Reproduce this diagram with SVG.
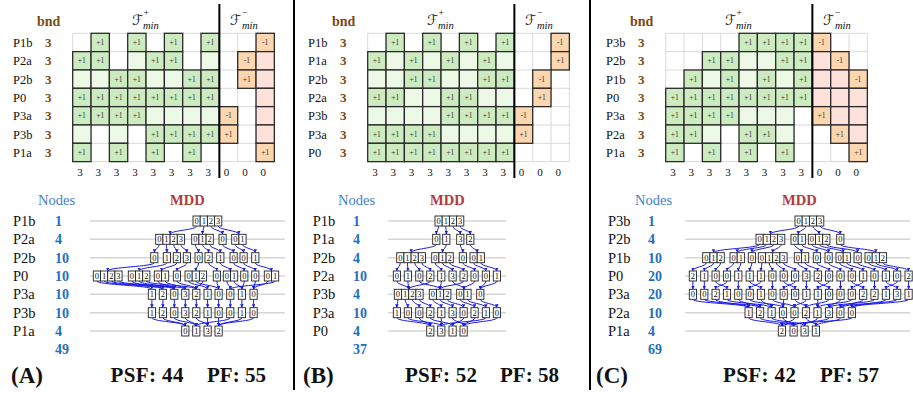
<svg xmlns="http://www.w3.org/2000/svg" width="913" height="396" viewBox="0 0 913 396">
<style>
text{font-family:"Liberation Serif","DejaVu Serif",serif;fill:#111}
.lab{font-size:12.5px}
.bn{font-size:13px;font-weight:bold;fill:#7b4a12}
.hd{font-size:14px;font-weight:bold;fill:#7b4a12}
.fs{font-size:14px;font-family:"DejaVu Sans","Noto Sans",sans-serif;font-weight:normal;text-anchor:end;fill:#222}
.sup{font-size:9.5px}
.sub{font-size:10.5px;font-style:italic}
.gl{stroke:#d9d9d9;stroke-width:1;fill:none}
.g{fill:#cdebc0;stroke:#2b2b2b;stroke-width:1.3}
.l{fill:#ecf9e7;stroke:#2b2b2b;stroke-width:1.3}
.o{fill:#fcd6ae;stroke:#2b2b2b;stroke-width:1.3}
.p{fill:#fde1da;stroke:#2b2b2b;stroke-width:1.3}
.t{font-size:7.5px;text-anchor:middle;fill:#333}
.cnt{font-size:11px;text-anchor:middle}
.sep{stroke:#000;stroke-width:2}
.ml{font-size:14.5px}
.mn{font-size:14px;font-weight:bold;fill:#1f6fbf}
.nodes{font-size:14.5px;fill:#3f7fcc}
.mdd{font-size:14.5px;font-weight:bold;fill:#b23a3a}
.rl{stroke:#d6d6d6;stroke-width:1.5}
.mc{fill:#fff;stroke:#222;stroke-width:0.9}
.md{font-size:8.5px;text-anchor:middle}
.e{fill:none;stroke:#1a1ae6;stroke-width:1;marker-end:url(#ar)}
.big{font-size:23px;font-weight:bold}
.sc{font-size:21px;font-weight:bold}
</style>
<defs>
<marker id="ar" viewBox="0 0 6 6" refX="6" refY="3" markerWidth="3.5" markerHeight="3.5" orient="auto" markerUnits="userSpaceOnUse"><path d="M0,0L6,3L0,6z" fill="#1a1ae6"/></marker>
<path id="gridbg" class="gl" d="M0 0H201.67M0 18.33H201.67M0 36.67H201.67M0 55H201.67M0 73.33H201.67M0 91.67H201.67M0 110H201.67M0 128.33H201.67M0 0V128.33M18.33 0V128.33M36.67 0V128.33M55 0V128.33M73.33 0V128.33M91.67 0V128.33M110 0V128.33M128.33 0V128.33M146.67 0V128.33M165 0V128.33M183.33 0V128.33M201.67 0V128.33"/>
<g id="g1"><rect class="g" width="18.33" height="18.33"/><text class="t" x="9.17" y="11.8">+1</text></g>
<rect id="lc" class="l" width="18.33" height="18.33"/>
<g id="om"><rect class="o" width="18.33" height="18.33"/><text class="t" x="9.17" y="11.8">-1</text></g>
<g id="op"><rect class="o" width="18.33" height="18.33"/><text class="t" x="9.17" y="11.8">+1</text></g>
<rect id="pk" class="p" width="18.33" height="18.33"/>
<g id="d0"><rect class="mc" width="7.2" height="10"/><text class="md" x="3.6" y="8.2">0</text></g>
<g id="d1"><rect class="mc" width="7.2" height="10"/><text class="md" x="3.6" y="8.2">1</text></g>
<g id="d2"><rect class="mc" width="7.2" height="10"/><text class="md" x="3.6" y="8.2">2</text></g>
<g id="d3"><rect class="mc" width="7.2" height="10"/><text class="md" x="3.6" y="8.2">3</text></g>
</defs>
<rect width="913" height="396" fill="#fff"/>

<!-- panel dividers -->
<g id="dividers"><line class="sep" x1="294" y1="0" x2="294" y2="390"/><line class="sep" x1="590" y1="0" x2="590" y2="390"/></g>

<!-- ===== Panel A table ===== -->
<g id="tableA">
<text class="hd" x="37" y="26">bnd</text>
<text class="fs" x="143" y="25">ℱ</text><text class="sup" x="143.5" y="15.5">+</text><text class="sub" x="143" y="28.5">min</text>
<text class="fs" x="241" y="25">ℱ</text><text class="sup" x="242" y="15.5">−</text><text class="sub" x="242" y="28.5">min</text>
<text class="lab" x="13" y="47">P1b</text><text class="lab" x="13" y="65.3">P2a</text><text class="lab" x="13" y="83.7">P2b</text><text class="lab" x="13" y="102">P0</text><text class="lab" x="13" y="120.3">P3a</text><text class="lab" x="13" y="138.7">P3b</text><text class="lab" x="13" y="157">P1a</text>
<text class="bn" x="45" y="47">3</text><text class="bn" x="45" y="65.3">3</text><text class="bn" x="45" y="83.7">3</text><text class="bn" x="45" y="102">3</text><text class="bn" x="45" y="120.3">3</text><text class="bn" x="45" y="138.7">3</text><text class="bn" x="45" y="157">3</text>
<g transform="translate(72.7,33.3)">
<use href="#gridbg"/>
<use href="#g1" x="18.33" y="0"/><use href="#g1" x="55" y="0"/><use href="#g1" x="91.67" y="0"/><use href="#g1" x="128.33" y="0"/><use href="#om" x="183.33" y="0"/>
<use href="#g1" x="0" y="18.33"/><use href="#g1" x="18.33" y="18.33"/><use href="#lc" x="55" y="18.33"/><use href="#g1" x="73.33" y="18.33"/><use href="#g1" x="91.67" y="18.33"/><use href="#lc" x="128.33" y="18.33"/><use href="#om" x="165" y="18.33"/><use href="#pk" x="183.33" y="18.33"/>
<use href="#lc" x="0" y="36.67"/><use href="#lc" x="18.33" y="36.67"/><use href="#g1" x="36.67" y="36.67"/><use href="#g1" x="55" y="36.67"/><use href="#lc" x="73.33" y="36.67"/><use href="#lc" x="91.67" y="36.67"/><use href="#g1" x="110" y="36.67"/><use href="#g1" x="128.33" y="36.67"/><use href="#op" x="165" y="36.67"/><use href="#pk" x="183.33" y="36.67"/>
<use href="#g1" x="0" y="55"/><use href="#g1" x="18.33" y="55"/><use href="#g1" x="36.67" y="55"/><use href="#g1" x="55" y="55"/><use href="#g1" x="73.33" y="55"/><use href="#g1" x="91.67" y="55"/><use href="#g1" x="110" y="55"/><use href="#g1" x="128.33" y="55"/><use href="#pk" x="183.33" y="55"/>
<use href="#g1" x="0" y="73.33"/><use href="#g1" x="18.33" y="73.33"/><use href="#g1" x="36.67" y="73.33"/><use href="#g1" x="55" y="73.33"/><use href="#lc" x="73.33" y="73.33"/><use href="#lc" x="91.67" y="73.33"/><use href="#lc" x="110" y="73.33"/><use href="#lc" x="128.33" y="73.33"/><use href="#om" x="146.67" y="73.33"/><use href="#pk" x="183.33" y="73.33"/>
<use href="#lc" x="0" y="91.67"/><use href="#lc" x="36.67" y="91.67"/><use href="#g1" x="73.33" y="91.67"/><use href="#g1" x="91.67" y="91.67"/><use href="#g1" x="110" y="91.67"/><use href="#g1" x="128.33" y="91.67"/><use href="#op" x="146.67" y="91.67"/><use href="#pk" x="183.33" y="91.67"/>
<use href="#g1" x="0" y="110"/><use href="#g1" x="36.67" y="110"/><use href="#g1" x="73.33" y="110"/><use href="#g1" x="110" y="110"/><use href="#op" x="183.33" y="110"/>
<line class="sep" x1="146.67" y1="-29.3" x2="146.67" y2="144.7"/>
<text class="cnt" x="7.2" y="142.7">3</text><text class="cnt" x="25.5" y="142.7">3</text><text class="cnt" x="43.8" y="142.7">3</text><text class="cnt" x="62.2" y="142.7">3</text><text class="cnt" x="80.5" y="142.7">3</text><text class="cnt" x="98.8" y="142.7">3</text><text class="cnt" x="117.2" y="142.7">3</text><text class="cnt" x="135.5" y="142.7">3</text><text class="cnt" x="153.8" y="142.7">0</text><text class="cnt" x="172.2" y="142.7">0</text><text class="cnt" x="190.5" y="142.7">0</text>
</g>
</g>

<!-- ===== Panel B table ===== -->
<g id="tableB" transform="translate(295,0)">
<text class="hd" x="37" y="26">bnd</text>
<text class="fs" x="143" y="25">ℱ</text><text class="sup" x="143.5" y="15.5">+</text><text class="sub" x="143" y="28.5">min</text>
<text class="fs" x="241" y="25">ℱ</text><text class="sup" x="242" y="15.5">−</text><text class="sub" x="242" y="28.5">min</text>
<text class="lab" x="13" y="47">P1b</text><text class="lab" x="13" y="65.3">P1a</text><text class="lab" x="13" y="83.7">P2b</text><text class="lab" x="13" y="102">P2a</text><text class="lab" x="13" y="120.3">P3b</text><text class="lab" x="13" y="138.7">P3a</text><text class="lab" x="13" y="157">P0</text>
<text class="bn" x="45" y="47">3</text><text class="bn" x="45" y="65.3">3</text><text class="bn" x="45" y="83.7">3</text><text class="bn" x="45" y="102">3</text><text class="bn" x="45" y="120.3">3</text><text class="bn" x="45" y="138.7">3</text><text class="bn" x="45" y="157">3</text>
<g transform="translate(72.7,33.3)">
<use href="#gridbg"/>
<use href="#g1" x="18.33" y="0"/><use href="#g1" x="55" y="0"/><use href="#g1" x="91.67" y="0"/><use href="#g1" x="128.33" y="0"/><use href="#om" x="183.33" y="0"/>
<use href="#g1" x="0" y="18.33"/><use href="#lc" x="18.33" y="18.33"/><use href="#g1" x="36.67" y="18.33"/><use href="#lc" x="55" y="18.33"/><use href="#g1" x="73.33" y="18.33"/><use href="#lc" x="91.67" y="18.33"/><use href="#g1" x="110" y="18.33"/><use href="#lc" x="128.33" y="18.33"/><use href="#op" x="183.33" y="18.33"/>
<use href="#lc" x="0" y="36.67"/><use href="#lc" x="18.33" y="36.67"/><use href="#g1" x="36.67" y="36.67"/><use href="#g1" x="55" y="36.67"/><use href="#lc" x="73.33" y="36.67"/><use href="#lc" x="91.67" y="36.67"/><use href="#g1" x="110" y="36.67"/><use href="#g1" x="128.33" y="36.67"/><use href="#om" x="165" y="36.67"/>
<use href="#g1" x="0" y="55"/><use href="#g1" x="18.33" y="55"/><use href="#lc" x="36.67" y="55"/><use href="#lc" x="55" y="55"/><use href="#g1" x="73.33" y="55"/><use href="#g1" x="91.67" y="55"/><use href="#lc" x="110" y="55"/><use href="#lc" x="128.33" y="55"/><use href="#op" x="165" y="55"/>
<use href="#lc" x="0" y="73.33"/><use href="#lc" x="18.33" y="73.33"/><use href="#lc" x="36.67" y="73.33"/><use href="#lc" x="55" y="73.33"/><use href="#g1" x="73.33" y="73.33"/><use href="#g1" x="91.67" y="73.33"/><use href="#g1" x="110" y="73.33"/><use href="#g1" x="128.33" y="73.33"/><use href="#om" x="146.67" y="73.33"/>
<use href="#g1" x="0" y="91.67"/><use href="#g1" x="18.33" y="91.67"/><use href="#g1" x="36.67" y="91.67"/><use href="#g1" x="55" y="91.67"/><use href="#lc" x="73.33" y="91.67"/><use href="#lc" x="91.67" y="91.67"/><use href="#lc" x="110" y="91.67"/><use href="#lc" x="128.33" y="91.67"/><use href="#op" x="146.67" y="91.67"/>
<use href="#g1" x="0" y="110"/><use href="#g1" x="18.33" y="110"/><use href="#g1" x="36.67" y="110"/><use href="#g1" x="55" y="110"/><use href="#g1" x="73.33" y="110"/><use href="#g1" x="91.67" y="110"/><use href="#g1" x="110" y="110"/><use href="#g1" x="128.33" y="110"/>
<line class="sep" x1="146.67" y1="-29.3" x2="146.67" y2="144.7"/>
<text class="cnt" x="7.2" y="142.7">3</text><text class="cnt" x="25.5" y="142.7">3</text><text class="cnt" x="43.8" y="142.7">3</text><text class="cnt" x="62.2" y="142.7">3</text><text class="cnt" x="80.5" y="142.7">3</text><text class="cnt" x="98.8" y="142.7">3</text><text class="cnt" x="117.2" y="142.7">3</text><text class="cnt" x="135.5" y="142.7">3</text><text class="cnt" x="153.8" y="142.7">0</text><text class="cnt" x="172.2" y="142.7">0</text><text class="cnt" x="190.5" y="142.7">0</text>
</g>
</g>

<!-- ===== Panel C table ===== -->
<g id="tableC" transform="translate(593,0)">
<text class="hd" x="37" y="26">bnd</text>
<text class="fs" x="143" y="25">ℱ</text><text class="sup" x="143.5" y="15.5">+</text><text class="sub" x="143" y="28.5">min</text>
<text class="fs" x="241" y="25">ℱ</text><text class="sup" x="242" y="15.5">−</text><text class="sub" x="242" y="28.5">min</text>
<text class="lab" x="13" y="47">P3b</text><text class="lab" x="13" y="65.3">P2b</text><text class="lab" x="13" y="83.7">P1b</text><text class="lab" x="13" y="102">P0</text><text class="lab" x="13" y="120.3">P3a</text><text class="lab" x="13" y="138.7">P2a</text><text class="lab" x="13" y="157">P1a</text>
<text class="bn" x="45" y="47">3</text><text class="bn" x="45" y="65.3">3</text><text class="bn" x="45" y="83.7">3</text><text class="bn" x="45" y="102">3</text><text class="bn" x="45" y="120.3">3</text><text class="bn" x="45" y="138.7">3</text><text class="bn" x="45" y="157">3</text>
<g transform="translate(72.7,33.3)">
<use href="#gridbg"/>
<use href="#g1" x="73.33" y="0"/><use href="#g1" x="91.67" y="0"/><use href="#g1" x="110" y="0"/><use href="#g1" x="128.33" y="0"/><use href="#om" x="146.67" y="0"/>
<use href="#g1" x="36.67" y="18.33"/><use href="#g1" x="55" y="18.33"/><use href="#lc" x="73.33" y="18.33"/><use href="#lc" x="91.67" y="18.33"/><use href="#g1" x="110" y="18.33"/><use href="#g1" x="128.33" y="18.33"/><use href="#pk" x="146.67" y="18.33"/><use href="#om" x="165" y="18.33"/>
<use href="#g1" x="18.33" y="36.67"/><use href="#lc" x="36.67" y="36.67"/><use href="#g1" x="55" y="36.67"/><use href="#lc" x="73.33" y="36.67"/><use href="#g1" x="91.67" y="36.67"/><use href="#lc" x="110" y="36.67"/><use href="#g1" x="128.33" y="36.67"/><use href="#pk" x="146.67" y="36.67"/><use href="#pk" x="165" y="36.67"/><use href="#om" x="183.33" y="36.67"/>
<use href="#g1" x="0" y="55"/><use href="#g1" x="18.33" y="55"/><use href="#g1" x="36.67" y="55"/><use href="#g1" x="55" y="55"/><use href="#g1" x="73.33" y="55"/><use href="#g1" x="91.67" y="55"/><use href="#g1" x="110" y="55"/><use href="#g1" x="128.33" y="55"/><use href="#pk" x="146.67" y="55"/><use href="#pk" x="165" y="55"/><use href="#pk" x="183.33" y="55"/>
<use href="#g1" x="0" y="73.33"/><use href="#g1" x="18.33" y="73.33"/><use href="#g1" x="36.67" y="73.33"/><use href="#g1" x="55" y="73.33"/><use href="#lc" x="73.33" y="73.33"/><use href="#lc" x="91.67" y="73.33"/><use href="#lc" x="110" y="73.33"/><use href="#op" x="146.67" y="73.33"/><use href="#pk" x="165" y="73.33"/><use href="#pk" x="183.33" y="73.33"/>
<use href="#g1" x="0" y="91.67"/><use href="#g1" x="18.33" y="91.67"/><use href="#lc" x="36.67" y="91.67"/><use href="#g1" x="73.33" y="91.67"/><use href="#g1" x="91.67" y="91.67"/><use href="#lc" x="110" y="91.67"/><use href="#op" x="165" y="91.67"/><use href="#pk" x="183.33" y="91.67"/>
<use href="#g1" x="0" y="110"/><use href="#g1" x="36.67" y="110"/><use href="#g1" x="73.33" y="110"/><use href="#g1" x="110" y="110"/><use href="#op" x="183.33" y="110"/>
<line class="sep" x1="146.67" y1="-29.3" x2="146.67" y2="144.7"/>
<text class="cnt" x="7.2" y="142.7">3</text><text class="cnt" x="25.5" y="142.7">3</text><text class="cnt" x="43.8" y="142.7">3</text><text class="cnt" x="62.2" y="142.7">3</text><text class="cnt" x="80.5" y="142.7">3</text><text class="cnt" x="98.8" y="142.7">3</text><text class="cnt" x="117.2" y="142.7">3</text><text class="cnt" x="135.5" y="142.7">3</text><text class="cnt" x="153.8" y="142.7">0</text><text class="cnt" x="172.2" y="142.7">0</text><text class="cnt" x="190.5" y="142.7">0</text>
</g>
</g>

<!-- ===== MDD labels ===== -->
<g id="labelsA">
<text class="nodes" x="38" y="205">Nodes</text><text class="mdd" x="170" y="205">MDD</text>
<text class="ml" x="13" y="226">P1b</text><text class="ml" x="13" y="244.3">P2a</text><text class="ml" x="13" y="262.7">P2b</text><text class="ml" x="13" y="281">P0</text><text class="ml" x="13" y="299.3">P3a</text><text class="ml" x="13" y="317.7">P3b</text><text class="ml" x="13" y="336">P1a</text>
<text class="mn" x="55" y="226">1</text><text class="mn" x="55" y="244.3">4</text><text class="mn" x="55" y="262.7">10</text><text class="mn" x="55" y="281">10</text><text class="mn" x="55" y="299.3">10</text><text class="mn" x="55" y="317.7">10</text><text class="mn" x="55" y="336">4</text><text class="mn" x="55" y="354">49</text>
<text class="big" x="11" y="383">(A)</text><text class="sc" x="110.5" y="382" textLength="73" lengthAdjust="spacing">PSF: 44</text><text class="sc" x="207" y="382">PF: 55</text>
</g>
<g id="labelsB">
<text class="nodes" x="338" y="205">Nodes</text><text class="mdd" x="430" y="205">MDD</text>
<text class="ml" x="312.7" y="226">P1b</text><text class="ml" x="312.7" y="244.3">P1a</text><text class="ml" x="312.7" y="262.7">P2b</text><text class="ml" x="312.7" y="281">P2a</text><text class="ml" x="312.7" y="299.3">P3b</text><text class="ml" x="312.7" y="317.7">P3a</text><text class="ml" x="312.7" y="336">P0</text>
<text class="mn" x="353" y="226">1</text><text class="mn" x="353" y="244.3">4</text><text class="mn" x="353" y="262.7">4</text><text class="mn" x="353" y="281">10</text><text class="mn" x="353" y="299.3">4</text><text class="mn" x="353" y="317.7">10</text><text class="mn" x="353" y="336">4</text><text class="mn" x="353" y="354">37</text>
<text class="big" x="303" y="383">(B)</text><text class="sc" x="405" y="382" textLength="72" lengthAdjust="spacing">PSF: 52</text><text class="sc" x="500" y="382">PF: 58</text>
</g>
<g id="labelsC">
<text class="nodes" x="635" y="205">Nodes</text><text class="mdd" x="782" y="205">MDD</text>
<text class="ml" x="608" y="226">P3b</text><text class="ml" x="608" y="244.3">P2b</text><text class="ml" x="608" y="262.7">P1b</text><text class="ml" x="608" y="281">P0</text><text class="ml" x="608" y="299.3">P3a</text><text class="ml" x="608" y="317.7">P2a</text><text class="ml" x="608" y="336">P1a</text>
<text class="mn" x="648" y="226">1</text><text class="mn" x="648" y="244.3">4</text><text class="mn" x="648" y="262.7">10</text><text class="mn" x="648" y="281">20</text><text class="mn" x="648" y="299.3">20</text><text class="mn" x="648" y="317.7">10</text><text class="mn" x="648" y="336">4</text><text class="mn" x="648" y="354">69</text>
<text class="big" x="596" y="383">(C)</text><text class="sc" x="723" y="382" textLength="73" lengthAdjust="spacing">PSF: 42</text><text class="sc" x="820" y="382">PF: 57</text>
</g>

<!-- row guide lines -->
<g id="rowlines">
<path class="rl" d="M90 221H285M90 239.3H285M90 257.7H285M90 276H285M90 294.3H285M90 312.7H285M90 331H285"/>
<path class="rl" d="M388 221H506M388 239.3H506M388 257.7H506M388 276H506M388 294.3H506M388 312.7H506M388 331H506"/>
<path class="rl" d="M685 221H910M685 239.3H910M685 257.7H910M685 276H910M685 294.3H910M685 312.7H910M685 331H910"/>
</g>

<!-- ===== connectors ===== -->
<g id="connectors">
<!-- A -->
<path class="e" d="M196.6 226C196.6 230 170.1 230.3 170.1 234.3"/>
<path class="e" d="M203.8 226C203.8 230 202.5 230.3 202.5 234.3"/>
<path class="e" d="M211 226C211 230 222.6 230.3 222.6 234.3"/>
<path class="e" d="M218.2 226C218.2 230 238.9 230.3 238.9 234.3"/>
<path class="e" d="M159.3 244.3C159.3 248.3 154.3 248.7 154.3 252.7"/>
<path class="e" d="M166.5 244.3C166.5 248.3 166.9 248.7 166.9 252.7"/>
<path class="e" d="M173.7 244.3C173.7 248.3 176.9 248.7 176.9 252.7"/>
<path class="e" d="M180.9 244.3C180.9 248.3 186.9 248.7 186.9 252.7"/>
<path class="e" d="M195.3 244.3C195.3 248.3 198.6 248.7 198.6 252.7"/>
<path class="e" d="M202.5 244.3C202.5 248.3 208.6 248.7 208.6 252.7"/>
<path class="e" d="M209.7 244.3C209.7 248.3 220.3 248.7 220.3 252.7"/>
<path class="e" d="M222.6 244.3C222.6 248.3 233.6 248.7 233.6 252.7"/>
<path class="e" d="M235.3 244.3C235.3 248.3 243.6 248.7 243.6 252.7"/>
<path class="e" d="M242.5 244.3C242.5 248.3 255.3 248.7 255.3 252.7"/>
<path class="e" d="M154.3 262.7C154.3 266.7 107.7 267 107.7 271"/>
<path class="e" d="M166.9 262.7C166.9 266.7 139.1 267 139.1 271"/>
<path class="e" d="M176.9 262.7C176.9 266.7 161.5 267 161.5 271"/>
<path class="e" d="M186.9 262.7C186.9 266.7 176.9 267 176.9 271"/>
<path class="e" d="M198.6 262.7C198.6 266.7 195.8 267 195.8 271"/>
<path class="e" d="M208.6 262.7C208.6 266.7 216.9 267 216.9 271"/>
<path class="e" d="M220.3 262.7C220.3 266.7 230.5 267 230.5 271"/>
<path class="e" d="M233.6 262.7C233.6 266.7 244.3 267 244.3 271"/>
<path class="e" d="M243.6 262.7C243.6 266.7 255.3 267 255.3 271"/>
<path class="e" d="M255.3 262.7C255.3 266.7 271.5 267 271.5 271"/>
<path class="e" d="M96.9 281C96.9 285 151.9 285.3 151.9 289.3"/>
<path class="e" d="M104.1 281C104.1 285 162.9 285.3 162.9 289.3"/>
<path class="e" d="M111.3 281C111.3 285 174.3 285.3 174.3 289.3"/>
<path class="e" d="M118.5 281C118.5 285 185.3 285.3 185.3 289.3"/>
<path class="e" d="M131.9 281C131.9 285 162.9 285.3 162.9 289.3"/>
<path class="e" d="M139.1 281C139.1 285 174.3 285.3 174.3 289.3"/>
<path class="e" d="M146.3 281C146.3 285 196.3 285.3 196.3 289.3"/>
<path class="e" d="M157.9 281C157.9 285 174.3 285.3 174.3 289.3"/>
<path class="e" d="M165.1 281C165.1 285 185.3 285.3 185.3 289.3"/>
<path class="e" d="M176.9 281C176.9 285 196.3 285.3 196.3 289.3"/>
<path class="e" d="M188.6 281C188.6 285 207.6 285.3 207.6 289.3"/>
<path class="e" d="M195.8 281C195.8 285 218.6 285.3 218.6 289.3"/>
<path class="e" d="M203 281C203 285 196.3 285.3 196.3 289.3"/>
<path class="e" d="M216.9 281C216.9 285 218.6 285.3 218.6 289.3"/>
<path class="e" d="M226.9 281C226.9 285 230.3 285.3 230.3 289.3"/>
<path class="e" d="M234.1 281C234.1 285 241.9 285.3 241.9 289.3"/>
<path class="e" d="M244.3 281C244.3 285 241.9 285.3 241.9 289.3"/>
<path class="e" d="M255.3 281C255.3 285 253.6 285.3 253.6 289.3"/>
<path class="e" d="M267.9 281C267.9 285 253.6 285.3 253.6 289.3"/>
<path class="e" d="M275.1 281C275.1 285 230.3 285.3 230.3 289.3"/>
<path class="e" d="M151.9 299.3V307.7"/><path class="e" d="M162.9 299.3V307.7"/><path class="e" d="M174.3 299.3V307.7"/><path class="e" d="M185.3 299.3V307.7"/><path class="e" d="M196.3 299.3V307.7"/><path class="e" d="M207.6 299.3V307.7"/><path class="e" d="M218.6 299.3V307.7"/><path class="e" d="M230.3 299.3V307.7"/><path class="e" d="M241.9 299.3V307.7"/><path class="e" d="M253.6 299.3V307.7"/>
<path class="e" d="M151.9 317.7C151.9 321.7 185.3 322 185.3 326"/>
<path class="e" d="M162.9 317.7C162.9 321.7 185.3 322 185.3 326"/>
<path class="e" d="M174.3 317.7C174.3 321.7 196.3 322 196.3 326"/>
<path class="e" d="M185.3 317.7C185.3 321.7 196.3 322 196.3 326"/>
<path class="e" d="M196.3 317.7C196.3 321.7 207.6 322 207.6 326"/>
<path class="e" d="M207.6 317.7C207.6 321.7 207.6 322 207.6 326"/>
<path class="e" d="M218.6 317.7C218.6 321.7 218.6 322 218.6 326"/>
<path class="e" d="M230.3 317.7C230.3 321.7 196.3 322 196.3 326"/>
<path class="e" d="M241.9 317.7C241.9 321.7 218.6 322 218.6 326"/>
<path class="e" d="M253.6 317.7C253.6 321.7 218.6 322 218.6 326"/>
<!-- B -->
<path class="e" d="M438.6 226C438.6 230 436.3 230.3 436.3 234.3"/>
<path class="e" d="M445.8 226C445.8 230 446.3 230.3 446.3 234.3"/>
<path class="e" d="M453 226C453 230 460.3 230.3 460.3 234.3"/>
<path class="e" d="M460.2 226C460.2 230 470.3 230.3 470.3 234.3"/>
<path class="e" d="M436.3 244.3C436.3 248.3 411.1 248.7 411.1 252.7"/>
<path class="e" d="M446.3 244.3C446.3 248.3 442.5 248.7 442.5 252.7"/>
<path class="e" d="M460.3 244.3C460.3 248.3 462.9 248.7 462.9 252.7"/>
<path class="e" d="M470.3 244.3C470.3 248.3 477.2 248.7 477.2 252.7"/>
<path class="e" d="M400.3 262.7C400.3 266.7 396.9 267 396.9 271"/>
<path class="e" d="M407.5 262.7C407.5 266.7 407.9 267 407.9 271"/>
<path class="e" d="M414.7 262.7C414.7 266.7 419.3 267 419.3 271"/>
<path class="e" d="M421.9 262.7C421.9 266.7 430.3 267 430.3 271"/>
<path class="e" d="M435.3 262.7C435.3 266.7 441.3 267 441.3 271"/>
<path class="e" d="M442.5 262.7C442.5 266.7 452.6 267 452.6 271"/>
<path class="e" d="M449.7 262.7C449.7 266.7 463.6 267 463.6 271"/>
<path class="e" d="M462.9 262.7C462.9 266.7 474.6 267 474.6 271"/>
<path class="e" d="M473.6 262.7C473.6 266.7 485.9 267 485.9 271"/>
<path class="e" d="M480.8 262.7C480.8 266.7 496.9 267 496.9 271"/>
<path class="e" d="M396.9 281C396.9 285 408.7 285.3 408.7 289.3"/>
<path class="e" d="M407.9 281C407.9 285 408.7 285.3 408.7 289.3"/>
<path class="e" d="M419.3 281C419.3 285 440.1 285.3 440.1 289.3"/>
<path class="e" d="M430.3 281C430.3 285 408.7 285.3 408.7 289.3"/>
<path class="e" d="M441.3 281C441.3 285 440.1 285.3 440.1 289.3"/>
<path class="e" d="M452.6 281C452.6 285 463.9 285.3 463.9 289.3"/>
<path class="e" d="M463.6 281C463.6 285 440.1 285.3 440.1 289.3"/>
<path class="e" d="M474.6 281C474.6 285 463.9 285.3 463.9 289.3"/>
<path class="e" d="M485.9 281C485.9 285 480.3 285.3 480.3 289.3"/>
<path class="e" d="M496.9 281C496.9 285 480.3 285.3 480.3 289.3"/>
<path class="e" d="M397.9 299.3C397.9 303.3 396.9 303.7 396.9 307.7"/>
<path class="e" d="M405.1 299.3C405.1 303.3 407.9 303.7 407.9 307.7"/>
<path class="e" d="M412.3 299.3C412.3 303.3 419.3 303.7 419.3 307.7"/>
<path class="e" d="M419.5 299.3C419.5 303.3 430.3 303.7 430.3 307.7"/>
<path class="e" d="M432.9 299.3C432.9 303.3 441.3 303.7 441.3 307.7"/>
<path class="e" d="M440.1 299.3C440.1 303.3 452.6 303.7 452.6 307.7"/>
<path class="e" d="M447.3 299.3C447.3 303.3 463.6 303.7 463.6 307.7"/>
<path class="e" d="M460.3 299.3C460.3 303.3 474.6 303.7 474.6 307.7"/>
<path class="e" d="M467.5 299.3C467.5 303.3 485.9 303.7 485.9 307.7"/>
<path class="e" d="M480.3 299.3C480.3 303.3 496.9 303.7 496.9 307.7"/>
<path class="e" d="M396.9 317.7C396.9 321.7 430.3 322 430.3 326"/>
<path class="e" d="M407.9 317.7C407.9 321.7 441.3 322 441.3 326"/>
<path class="e" d="M419.3 317.7C419.3 321.7 430.3 322 430.3 326"/>
<path class="e" d="M430.3 317.7C430.3 321.7 452.6 322 452.6 326"/>
<path class="e" d="M441.3 317.7C441.3 321.7 441.3 322 441.3 326"/>
<path class="e" d="M452.6 317.7C452.6 321.7 463.6 322 463.6 326"/>
<path class="e" d="M463.6 317.7C463.6 321.7 452.6 322 452.6 326"/>
<path class="e" d="M474.6 317.7C474.6 321.7 463.6 322 463.6 326"/>
<path class="e" d="M485.9 317.7C485.9 321.7 441.3 322 441.3 326"/>
<path class="e" d="M496.9 317.7C496.9 321.7 463.6 322 463.6 326"/>
<!-- C -->
<path class="e" d="M798.6 226C798.6 230 770.4 230.3 770.4 234.3"/>
<path class="e" d="M805.8 226C805.8 230 798.2 230.3 798.2 234.3"/>
<path class="e" d="M813 226C813 230 819.1 230.3 819.1 234.3"/>
<path class="e" d="M820.2 226C820.2 230 840.3 230.3 840.3 234.3"/>
<path class="e" d="M759.6 244.3C759.6 248.3 713.5 248.7 713.5 252.7"/>
<path class="e" d="M766.8 244.3C766.8 248.3 737.2 248.7 737.2 252.7"/>
<path class="e" d="M774 244.3C774 248.3 751.9 248.7 751.9 252.7"/>
<path class="e" d="M781.2 244.3C781.2 248.3 772.7 248.7 772.7 252.7"/>
<path class="e" d="M794.6 244.3C794.6 248.3 801.5 248.7 801.5 252.7"/>
<path class="e" d="M801.8 244.3C801.8 248.3 816.9 248.7 816.9 252.7"/>
<path class="e" d="M811.9 244.3C811.9 248.3 828.6 248.7 828.6 252.7"/>
<path class="e" d="M819.1 244.3C819.1 248.3 843.2 248.7 843.2 252.7"/>
<path class="e" d="M826.3 244.3C826.3 248.3 857.6 248.7 857.6 252.7"/>
<path class="e" d="M840.3 244.3C840.3 248.3 875.8 248.7 875.8 252.7"/>
<path class="e" d="M706.3 262.7C706.3 266.7 692.9 267 692.9 271"/>
<path class="e" d="M713.5 262.7C713.5 266.7 704.3 267 704.3 271"/>
<path class="e" d="M720.7 262.7C720.7 266.7 715.6 267 715.6 271"/>
<path class="e" d="M733.6 262.7C733.6 266.7 727 267 727 271"/>
<path class="e" d="M740.8 262.7C740.8 266.7 738.3 267 738.3 271"/>
<path class="e" d="M751.9 262.7C751.9 266.7 749.7 267 749.7 271"/>
<path class="e" d="M761.9 262.7C761.9 266.7 761 267 761 271"/>
<path class="e" d="M769.1 262.7C769.1 266.7 772.4 267 772.4 271"/>
<path class="e" d="M776.3 262.7C776.3 266.7 783.7 267 783.7 271"/>
<path class="e" d="M783.5 262.7C783.5 266.7 795.1 267 795.1 271"/>
<path class="e" d="M797.9 262.7C797.9 266.7 806.4 267 806.4 271"/>
<path class="e" d="M805.1 262.7C805.1 266.7 817.8 267 817.8 271"/>
<path class="e" d="M816.9 262.7C816.9 266.7 829.1 267 829.1 271"/>
<path class="e" d="M828.6 262.7C828.6 266.7 840.5 267 840.5 271"/>
<path class="e" d="M839.6 262.7C839.6 266.7 851.8 267 851.8 271"/>
<path class="e" d="M846.8 262.7C846.8 266.7 863.2 267 863.2 271"/>
<path class="e" d="M857.6 262.7C857.6 266.7 874.5 267 874.5 271"/>
<path class="e" d="M868.6 262.7C868.6 266.7 885.9 267 885.9 271"/>
<path class="e" d="M875.8 262.7C875.8 266.7 897.2 267 897.2 271"/>
<path class="e" d="M883 262.7C883 266.7 908.6 267 908.6 271"/>
<path class="e" d="M692.9 281V289.3"/>
<path class="e" d="M704.3 281V289.3"/>
<path class="e" d="M715.6 281C715.6 285 727 285.3 727 289.3"/>
<path class="e" d="M727 281C727 285 715.6 285.3 715.6 289.3"/>
<path class="e" d="M738.3 281V289.3"/>
<path class="e" d="M749.7 281C749.7 285 761 285.3 761 289.3"/>
<path class="e" d="M761 281C761 285 749.7 285.3 749.7 289.3"/>
<path class="e" d="M772.4 281V289.3"/>
<path class="e" d="M783.7 281C783.7 285 795.1 285.3 795.1 289.3"/>
<path class="e" d="M795.1 281C795.1 285 783.7 285.3 783.7 289.3"/>
<path class="e" d="M806.4 281V289.3"/>
<path class="e" d="M817.8 281C817.8 285 829.1 285.3 829.1 289.3"/>
<path class="e" d="M829.1 281C829.1 285 817.8 285.3 817.8 289.3"/>
<path class="e" d="M840.5 281V289.3"/>
<path class="e" d="M851.8 281C851.8 285 863.2 285.3 863.2 289.3"/>
<path class="e" d="M863.2 281C863.2 285 851.8 285.3 851.8 289.3"/>
<path class="e" d="M874.5 281V289.3"/>
<path class="e" d="M885.9 281C885.9 285 897.2 285.3 897.2 289.3"/>
<path class="e" d="M897.2 281C897.2 285 885.9 285.3 885.9 289.3"/>
<path class="e" d="M908.6 281V289.3"/>
<path class="e" d="M692.9 299.3C692.9 303.3 748.6 303.7 748.6 307.7"/>
<path class="e" d="M704.3 299.3C704.3 303.3 760.1 303.7 760.1 307.7"/>
<path class="e" d="M715.6 299.3C715.6 303.3 748.6 303.7 748.6 307.7"/>
<path class="e" d="M727 299.3C727 303.3 771.6 303.7 771.6 307.7"/>
<path class="e" d="M738.3 299.3C738.3 303.3 760.1 303.7 760.1 307.7"/>
<path class="e" d="M749.7 299.3C749.7 303.3 783 303.7 783 307.7"/>
<path class="e" d="M761 299.3C761 303.3 771.6 303.7 771.6 307.7"/>
<path class="e" d="M772.4 299.3C772.4 303.3 794.5 303.7 794.5 307.7"/>
<path class="e" d="M783.7 299.3C783.7 303.3 783 303.7 783 307.7"/>
<path class="e" d="M795.1 299.3C795.1 303.3 806 303.7 806 307.7"/>
<path class="e" d="M806.4 299.3C806.4 303.3 794.5 303.7 794.5 307.7"/>
<path class="e" d="M817.8 299.3C817.8 303.3 817.5 303.7 817.5 307.7"/>
<path class="e" d="M829.1 299.3C829.1 303.3 806 303.7 806 307.7"/>
<path class="e" d="M840.5 299.3C840.5 303.3 829 303.7 829 307.7"/>
<path class="e" d="M851.8 299.3C851.8 303.3 817.5 303.7 817.5 307.7"/>
<path class="e" d="M863.2 299.3C863.2 303.3 840.4 303.7 840.4 307.7"/>
<path class="e" d="M874.5 299.3C874.5 303.3 829 303.7 829 307.7"/>
<path class="e" d="M885.9 299.3C885.9 303.3 851.9 303.7 851.9 307.7"/>
<path class="e" d="M897.2 299.3C897.2 303.3 840.4 303.7 840.4 307.7"/>
<path class="e" d="M908.6 299.3C908.6 303.3 851.9 303.7 851.9 307.7"/>
<path class="e" d="M748.6 317.7C748.6 321.7 781.9 322 781.9 326"/>
<path class="e" d="M760.1 317.7C760.1 321.7 793.6 322 793.6 326"/>
<path class="e" d="M771.6 317.7C771.6 321.7 804.6 322 804.6 326"/>
<path class="e" d="M783 317.7C783 321.7 793.6 322 793.6 326"/>
<path class="e" d="M794.5 317.7C794.5 321.7 781.9 322 781.9 326"/>
<path class="e" d="M806 317.7C806 321.7 815.9 322 815.9 326"/>
<path class="e" d="M817.5 317.7C817.5 321.7 804.6 322 804.6 326"/>
<path class="e" d="M829 317.7C829 321.7 793.6 322 793.6 326"/>
<path class="e" d="M840.4 317.7C840.4 321.7 815.9 322 815.9 326"/>
<path class="e" d="M851.9 317.7C851.9 321.7 781.9 322 781.9 326"/>
</g>

<!-- ===== MDD nodes A ===== -->
<g id="mddA">
<g id="A0"><use href="#d0" x="193" y="216"/><use href="#d1" x="200.2" y="216"/><use href="#d2" x="207.4" y="216"/><use href="#d3" x="214.6" y="216"/></g>
<g id="A1a"><use href="#d0" x="155.7" y="234.3"/><use href="#d1" x="162.9" y="234.3"/><use href="#d2" x="170.1" y="234.3"/><use href="#d3" x="177.3" y="234.3"/></g>
<g id="A1b"><use href="#d0" x="191.7" y="234.3"/><use href="#d1" x="198.9" y="234.3"/><use href="#d2" x="206.1" y="234.3"/></g>
<g id="A1c"><use href="#d0" x="219" y="234.3"/></g>
<g id="A1d"><use href="#d0" x="231.7" y="234.3"/><use href="#d1" x="238.9" y="234.3"/></g>
<g id="A2-0"><use href="#d0" x="150.7" y="252.7"/></g><g id="A2-1"><use href="#d1" x="163.3" y="252.7"/></g><g id="A2-2"><use href="#d2" x="173.3" y="252.7"/></g><g id="A2-3"><use href="#d3" x="183.3" y="252.7"/></g><g id="A2-4"><use href="#d0" x="195" y="252.7"/></g><g id="A2-5"><use href="#d2" x="205" y="252.7"/></g><g id="A2-6"><use href="#d1" x="216.7" y="252.7"/></g><g id="A2-7"><use href="#d0" x="230" y="252.7"/></g><g id="A2-8"><use href="#d0" x="240" y="252.7"/></g><g id="A2-9"><use href="#d1" x="251.7" y="252.7"/></g>
<g id="A3-0"><use href="#d0" x="93.3" y="271"/><use href="#d1" x="100.5" y="271"/><use href="#d2" x="107.7" y="271"/><use href="#d3" x="114.9" y="271"/></g>
<g id="A3-1"><use href="#d0" x="128.3" y="271"/><use href="#d1" x="135.5" y="271"/><use href="#d2" x="142.7" y="271"/></g>
<g id="A3-2"><use href="#d0" x="154.3" y="271"/><use href="#d1" x="161.5" y="271"/></g>
<g id="A3-3"><use href="#d0" x="173.3" y="271"/></g>
<g id="A3-4"><use href="#d0" x="185" y="271"/><use href="#d1" x="192.2" y="271"/><use href="#d2" x="199.4" y="271"/></g>
<g id="A3-5"><use href="#d0" x="213.3" y="271"/></g>
<g id="A3-6"><use href="#d0" x="223.3" y="271"/><use href="#d1" x="230.5" y="271"/></g>
<g id="A3-7"><use href="#d0" x="240.7" y="271"/></g>
<g id="A3-8"><use href="#d0" x="251.7" y="271"/></g>
<g id="A3-9"><use href="#d0" x="264.3" y="271"/><use href="#d1" x="271.5" y="271"/></g>
<g id="A4-0"><use href="#d1" x="148.3" y="289.3"/></g><g id="A4-1"><use href="#d2" x="159.3" y="289.3"/></g><g id="A4-2"><use href="#d0" x="170.7" y="289.3"/></g><g id="A4-3"><use href="#d3" x="181.7" y="289.3"/></g><g id="A4-4"><use href="#d2" x="192.7" y="289.3"/></g><g id="A4-5"><use href="#d1" x="204" y="289.3"/></g><g id="A4-6"><use href="#d0" x="215" y="289.3"/></g><g id="A4-7"><use href="#d0" x="226.7" y="289.3"/></g><g id="A4-8"><use href="#d1" x="238.3" y="289.3"/></g><g id="A4-9"><use href="#d0" x="250" y="289.3"/></g>
<g id="A5-0"><use href="#d1" x="148.3" y="307.7"/></g><g id="A5-1"><use href="#d2" x="159.3" y="307.7"/></g><g id="A5-2"><use href="#d0" x="170.7" y="307.7"/></g><g id="A5-3"><use href="#d3" x="181.7" y="307.7"/></g><g id="A5-4"><use href="#d2" x="192.7" y="307.7"/></g><g id="A5-5"><use href="#d1" x="204" y="307.7"/></g><g id="A5-6"><use href="#d0" x="215" y="307.7"/></g><g id="A5-7"><use href="#d0" x="226.7" y="307.7"/></g><g id="A5-8"><use href="#d1" x="238.3" y="307.7"/></g><g id="A5-9"><use href="#d0" x="250" y="307.7"/></g>
<g id="A6-0"><use href="#d0" x="181.7" y="326"/></g><g id="A6-1"><use href="#d1" x="192.7" y="326"/></g><g id="A6-2"><use href="#d3" x="204" y="326"/></g><g id="A6-3"><use href="#d2" x="215" y="326"/></g>
</g>

<!-- ===== MDD nodes B ===== -->
<g id="mddB">
<g id="B0"><use href="#d0" x="435" y="216"/><use href="#d1" x="442.2" y="216"/><use href="#d2" x="449.4" y="216"/><use href="#d3" x="456.6" y="216"/></g>
<g id="B1-0"><use href="#d0" x="432.7" y="234.3"/></g><g id="B1-1"><use href="#d1" x="442.7" y="234.3"/></g><g id="B1-2"><use href="#d3" x="456.7" y="234.3"/></g><g id="B1-3"><use href="#d2" x="466.7" y="234.3"/></g>
<g id="B2-0"><use href="#d0" x="396.7" y="252.7"/><use href="#d1" x="403.9" y="252.7"/><use href="#d2" x="411.1" y="252.7"/><use href="#d3" x="418.3" y="252.7"/></g>
<g id="B2-1"><use href="#d0" x="431.7" y="252.7"/><use href="#d1" x="438.9" y="252.7"/><use href="#d2" x="446.1" y="252.7"/></g>
<g id="B2-2"><use href="#d0" x="459.3" y="252.7"/></g>
<g id="B2-3"><use href="#d0" x="470" y="252.7"/><use href="#d1" x="477.2" y="252.7"/></g>
<g id="B3-0"><use href="#d0" x="393.3" y="271"/></g><g id="B3-1"><use href="#d1" x="404.3" y="271"/></g><g id="B3-2"><use href="#d0" x="415.7" y="271"/></g><g id="B3-3"><use href="#d2" x="426.7" y="271"/></g><g id="B3-4"><use href="#d1" x="437.7" y="271"/></g><g id="B3-5"><use href="#d3" x="449" y="271"/></g><g id="B3-6"><use href="#d2" x="460" y="271"/></g><g id="B3-7"><use href="#d0" x="471" y="271"/></g><g id="B3-8"><use href="#d0" x="482.3" y="271"/></g><g id="B3-9"><use href="#d1" x="493.3" y="271"/></g>
<g id="B4-0"><use href="#d0" x="394.3" y="289.3"/><use href="#d1" x="401.5" y="289.3"/><use href="#d2" x="408.7" y="289.3"/><use href="#d3" x="415.9" y="289.3"/></g>
<g id="B4-1"><use href="#d0" x="429.3" y="289.3"/><use href="#d1" x="436.5" y="289.3"/><use href="#d2" x="443.7" y="289.3"/></g>
<g id="B4-2"><use href="#d0" x="456.7" y="289.3"/><use href="#d1" x="463.9" y="289.3"/></g>
<g id="B4-3"><use href="#d0" x="476.7" y="289.3"/></g>
<g id="B5-0"><use href="#d1" x="393.3" y="307.7"/></g><g id="B5-1"><use href="#d0" x="404.3" y="307.7"/></g><g id="B5-2"><use href="#d0" x="415.7" y="307.7"/></g><g id="B5-3"><use href="#d2" x="426.7" y="307.7"/></g><g id="B5-4"><use href="#d1" x="437.7" y="307.7"/></g><g id="B5-5"><use href="#d3" x="449" y="307.7"/></g><g id="B5-6"><use href="#d0" x="460" y="307.7"/></g><g id="B5-7"><use href="#d2" x="471" y="307.7"/></g><g id="B5-8"><use href="#d1" x="482.3" y="307.7"/></g><g id="B5-9"><use href="#d0" x="493.3" y="307.7"/></g>
<g id="B6-0"><use href="#d2" x="426.7" y="326"/></g><g id="B6-1"><use href="#d3" x="437.7" y="326"/></g><g id="B6-2"><use href="#d1" x="449" y="326"/></g><g id="B6-3"><use href="#d0" x="460" y="326"/></g>
</g>

<!-- ===== MDD nodes C ===== -->
<g id="mddC">
<g id="C0"><use href="#d0" x="795" y="216"/><use href="#d1" x="802.2" y="216"/><use href="#d2" x="809.4" y="216"/><use href="#d3" x="816.6" y="216"/></g>
<g id="C1-0"><use href="#d0" x="756" y="234.3"/><use href="#d1" x="763.2" y="234.3"/><use href="#d2" x="770.4" y="234.3"/><use href="#d3" x="777.6" y="234.3"/></g>
<g id="C1-1"><use href="#d0" x="791" y="234.3"/><use href="#d1" x="798.2" y="234.3"/></g>
<g id="C1-2"><use href="#d0" x="808.3" y="234.3"/><use href="#d1" x="815.5" y="234.3"/><use href="#d2" x="822.7" y="234.3"/></g>
<g id="C1-3"><use href="#d0" x="836.7" y="234.3"/></g>
<g id="C2-0"><use href="#d0" x="702.7" y="252.7"/><use href="#d1" x="709.9" y="252.7"/><use href="#d2" x="717.1" y="252.7"/></g>
<g id="C2-1"><use href="#d0" x="730" y="252.7"/><use href="#d1" x="737.2" y="252.7"/></g>
<g id="C2-2"><use href="#d0" x="748.3" y="252.7"/></g>
<g id="C2-3"><use href="#d0" x="758.3" y="252.7"/><use href="#d1" x="765.5" y="252.7"/><use href="#d2" x="772.7" y="252.7"/><use href="#d3" x="779.9" y="252.7"/></g>
<g id="C2-4"><use href="#d0" x="794.3" y="252.7"/><use href="#d1" x="801.5" y="252.7"/></g>
<g id="C2-5"><use href="#d0" x="813.3" y="252.7"/></g>
<g id="C2-6"><use href="#d0" x="825" y="252.7"/></g>
<g id="C2-7"><use href="#d0" x="836" y="252.7"/><use href="#d1" x="843.2" y="252.7"/></g>
<g id="C2-8"><use href="#d0" x="854" y="252.7"/></g>
<g id="C2-9"><use href="#d0" x="865" y="252.7"/><use href="#d1" x="872.2" y="252.7"/><use href="#d2" x="879.4" y="252.7"/></g>
<g id="C3-0"><use href="#d2" x="689.3" y="271"/></g><g id="C3-1"><use href="#d1" x="700.7" y="271"/></g><g id="C3-2"><use href="#d0" x="712" y="271"/></g><g id="C3-3"><use href="#d0" x="723.4" y="271"/></g><g id="C3-4"><use href="#d1" x="734.7" y="271"/></g><g id="C3-5"><use href="#d1" x="746.1" y="271"/></g><g id="C3-6"><use href="#d1" x="757.4" y="271"/></g><g id="C3-7"><use href="#d0" x="768.8" y="271"/></g><g id="C3-8"><use href="#d0" x="780.1" y="271"/></g><g id="C3-9"><use href="#d0" x="791.5" y="271"/></g><g id="C3-10"><use href="#d3" x="802.8" y="271"/></g><g id="C3-11"><use href="#d2" x="814.2" y="271"/></g><g id="C3-12"><use href="#d0" x="825.5" y="271"/></g><g id="C3-13"><use href="#d0" x="836.9" y="271"/></g><g id="C3-14"><use href="#d0" x="848.2" y="271"/></g><g id="C3-15"><use href="#d1" x="859.6" y="271"/></g><g id="C3-16"><use href="#d0" x="870.9" y="271"/></g><g id="C3-17"><use href="#d1" x="882.3" y="271"/></g><g id="C3-18"><use href="#d0" x="893.6" y="271"/></g><g id="C3-19"><use href="#d2" x="905" y="271"/></g>
<g id="C4-0"><use href="#d0" x="689.3" y="289.3"/></g><g id="C4-1"><use href="#d0" x="700.7" y="289.3"/></g><g id="C4-2"><use href="#d2" x="712" y="289.3"/></g><g id="C4-3"><use href="#d1" x="723.4" y="289.3"/></g><g id="C4-4"><use href="#d0" x="734.7" y="289.3"/></g><g id="C4-5"><use href="#d0" x="746.1" y="289.3"/></g><g id="C4-6"><use href="#d1" x="757.4" y="289.3"/></g><g id="C4-7"><use href="#d0" x="768.8" y="289.3"/></g><g id="C4-8"><use href="#d0" x="780.1" y="289.3"/></g><g id="C4-9"><use href="#d0" x="791.5" y="289.3"/></g><g id="C4-10"><use href="#d1" x="802.8" y="289.3"/></g><g id="C4-11"><use href="#d1" x="814.2" y="289.3"/></g><g id="C4-12"><use href="#d0" x="825.5" y="289.3"/></g><g id="C4-13"><use href="#d0" x="836.9" y="289.3"/></g><g id="C4-14"><use href="#d0" x="848.2" y="289.3"/></g><g id="C4-15"><use href="#d2" x="859.6" y="289.3"/></g><g id="C4-16"><use href="#d2" x="870.9" y="289.3"/></g><g id="C4-17"><use href="#d1" x="882.3" y="289.3"/></g><g id="C4-18"><use href="#d3" x="893.6" y="289.3"/></g><g id="C4-19"><use href="#d1" x="905" y="289.3"/></g>
<g id="C5-0"><use href="#d1" x="745" y="307.7"/></g><g id="C5-1"><use href="#d2" x="756.5" y="307.7"/></g><g id="C5-2"><use href="#d1" x="768" y="307.7"/></g><g id="C5-3"><use href="#d0" x="779.4" y="307.7"/></g><g id="C5-4"><use href="#d0" x="790.9" y="307.7"/></g><g id="C5-5"><use href="#d2" x="802.4" y="307.7"/></g><g id="C5-6"><use href="#d1" x="813.9" y="307.7"/></g><g id="C5-7"><use href="#d3" x="825.4" y="307.7"/></g><g id="C5-8"><use href="#d0" x="836.8" y="307.7"/></g><g id="C5-9"><use href="#d0" x="848.3" y="307.7"/></g>
<g id="C6-0"><use href="#d2" x="778.3" y="326"/></g><g id="C6-1"><use href="#d0" x="790" y="326"/></g><g id="C6-2"><use href="#d3" x="801" y="326"/></g><g id="C6-3"><use href="#d1" x="812.3" y="326"/></g>
</g>
</svg>
